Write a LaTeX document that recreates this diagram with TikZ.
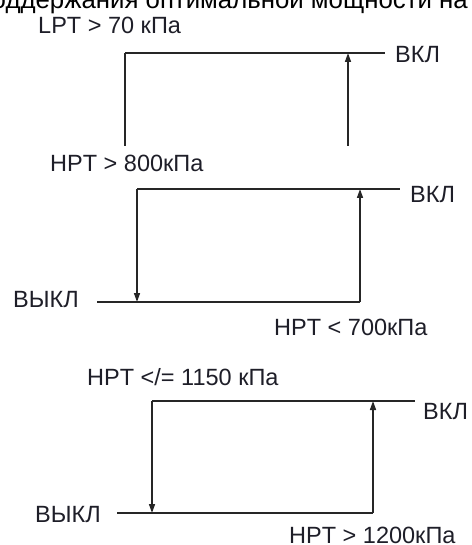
\documentclass[tikz,border=0pt]{standalone}
\usepackage{fontspec}
\setmainfont{Liberation Sans}
\usetikzlibrary{arrows.meta, positioning}
\definecolor{inkdark}{RGB}{30,30,40}
\tikzset{
  % Labels of the switching levels
  levellabel/.style={anchor=base west, inner sep=0pt, text=inkdark,
    font=\fontsize{23.5}{28}\selectfont},
  % Plain trace of the hysteresis loop
  trace/.style={line width=1.5pt, black!85},
  % Trace with the switching arrow
  switcharrow/.style={line width=1.5pt, black!85, -{Triangle[length=9pt, width=6pt]}}
}
\begin{document}
\begin{tikzpicture}[x=1pt, y=-1pt]
  \useasboundingbox (0,0) rectangle (471,545);
  \clip (0,0) rectangle (471,545);

  % Caption cut by the top edge
  \node[levellabel, anchor=base east, text=black, font=\fontsize{25.8}{30}\selectfont]
    (caption) at (468,9) {поддержания оптимальной мощности на};

  % Loop 1
  \node[levellabel] (lpt) at (38,34) {LPT > 70 кПа};
  \node[levellabel] (on1) at (395,63) {ВКЛ};
  \coordinate (a1) at (125,53);
  \coordinate (b1) at (385,53);
  \coordinate (c1) at (125,146);
  \coordinate (d1) at (348,146);
  \coordinate (e1) at (348,53);
  \draw[trace] (a1) -- (b1);
  \draw[trace] (a1) -- (c1);
  \draw[switcharrow] (d1) -- (e1);

  % Loop 2
  \node[levellabel] (hpt1) at (50,172) {HPT > 800кПа};
  \node[levellabel] (on2) at (410,202) {ВКЛ};
  \node[levellabel] (off2) at (13,307) {ВЫКЛ};
  \node[levellabel] (hpt2) at (274,335) {HPT < 700кПа};
  \coordinate (a2) at (137,189);
  \coordinate (b2) at (400,189);
  \coordinate (c2) at (137,302);
  \coordinate (f2) at (97,302);
  \coordinate (d2) at (360,302);
  \coordinate (e2) at (360,189);
  \draw[trace] (a2) -- (b2);
  \draw[switcharrow] (a2) -- (c2);
  \draw[trace] (f2) -- (d2);
  \draw[switcharrow] (d2) -- (e2);

  % Loop 3
  \node[levellabel] (hpt3) at (87,385) {HPT </= 1150 кПа};
  \node[levellabel] (on3) at (423,419) {ВКЛ};
  \node[levellabel] (off3) at (35,522) {ВЫКЛ};
  \node[levellabel] (hpt4) at (289,543) {HPT > 1200кПа};
  \coordinate (a3) at (152,401);
  \coordinate (b3) at (415,401);
  \coordinate (c3) at (152,513);
  \coordinate (f3) at (117,513);
  \coordinate (d3) at (373,513);
  \coordinate (e3) at (373,401);
  \draw[trace] (a3) -- (b3);
  \draw[switcharrow] (a3) -- (c3);
  \draw[trace] (f3) -- (d3);
  \draw[switcharrow] (d3) -- (e3);
\end{tikzpicture}
\end{document}
